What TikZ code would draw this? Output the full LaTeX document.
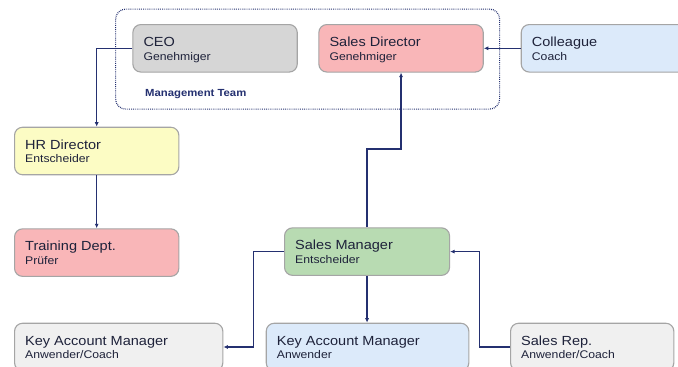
\documentclass[tikz,border=0pt]{standalone}
\usepackage{fontspec}
\setmainfont{Liberation Sans}[FakeStretch=1.1]
\usetikzlibrary{arrows.meta,calc}

\definecolor{navy}{RGB}{36,48,112}
\definecolor{ink}{RGB}{30,34,58}
\definecolor{boxline}{RGB}{165,165,165}
\definecolor{fillgray}{RGB}{214,214,214}
\definecolor{fillpink}{RGB}{249,182,184}
\definecolor{fillblue}{RGB}{220,234,250}
\definecolor{fillyellow}{RGB}{252,252,196}
\definecolor{fillgreen}{RGB}{184,219,178}
\definecolor{filllight}{RGB}{240,240,240}

\tikzset{
  rolebox/.style={draw=boxline, line width=1.1pt, rounded corners=8pt,
    minimum height=47.5pt, anchor=north west, inner sep=0pt},
  roletitle/.style={anchor=base west, inner sep=0pt, text=ink,
    font=\fontsize{13.2}{15}\selectfont},
  rolesub/.style={anchor=base west, inner sep=0pt, text=ink,
    font=\fontsize{11.1}{13}\selectfont},
  teambox/.style={draw=navy, line width=1.2pt, dash pattern=on 0.8pt off 1.1pt,
    rounded corners=10pt, anchor=north west, inner sep=0pt},
  teamlabel/.style={anchor=base west, inner sep=0pt, text=navy,
    font=\bfseries\fontsize{10.3}{12}\selectfont},
  link/.style={draw=navy, line width=1.2pt, -{Latex[length=4.5pt,width=4pt]}},
}

% name, left, top, width, fill, title, subtitle
\newcommand\role[7]{%
  \node[rolebox, fill=#5, minimum width=#4pt] (#1) at (#2,#3) {};
  \node[roletitle] (#1-title) at ($(#1.north west)+(11,22.5)$) {#6};
  \node[rolesub] (#1-sub) at ($(#1.north west)+(11,36)$) {#7};
}

\begin{document}
\begin{tikzpicture}[x=1pt,y=-1pt]
  \useasboundingbox (0,0) rectangle (678,367);
  \clip (0,0) rectangle (678,367);
  \fill[white] (0,0) rectangle (678,367);

  % management team frame
  \node[teambox, minimum width=384pt, minimum height=100pt] (team) at (115,8.5) {};
  \node[teamlabel] (team-label) at (145,96.7) {Management Team};

  % roles
  \role{ceo}{132.3}{24}{164.4}{fillgray}{CEO}{Genehmiger}
  \role{sd}{318.3}{24}{164.4}{fillpink}{Sales Director}{Genehmiger}
  \role{coll}{520.7}{24}{175}{fillblue}{Colleague}{Coach}
  \role{hr}{14}{126.7}{164.3}{fillyellow}{HR Director}{Entscheider}
  \role{train}{14}{228.3}{164.3}{fillpink}{Training Dept.}{Prüfer}
  \role{sm}{284}{227.3}{165}{fillgreen}{Sales Manager}{Entscheider}
  \role{kaml}{14}{322.7}{208.3}{filllight}{Key Account Manager}{Anwender/Coach}
  \role{kamm}{265.7}{322.7}{202.6}{fillblue}{Key Account Manager}{Anwender}
  \role{rep}{510}{322.7}{163.3}{filllight}{Sales Rep.}{Anwender/Coach}

  % reporting lines
  \draw[link] (ceo.west) -| (hr.north);
  \draw[link] (hr.south) -- (train.north);
  \draw[link] (coll.west) -- (sd.east);
  \draw[link] (sm.north) -- ++(0,-78.3) -| (sd.south);
  \draw[link] (sm.west) -- ++(-30.7,0) |- (kaml.east);
  \draw[link] (sm.south) -- (sm.south |- kamm.north);
  \draw[link] (rep.west) -- ++(-30.7,0) |- (sm.east);
\end{tikzpicture}
\end{document}
